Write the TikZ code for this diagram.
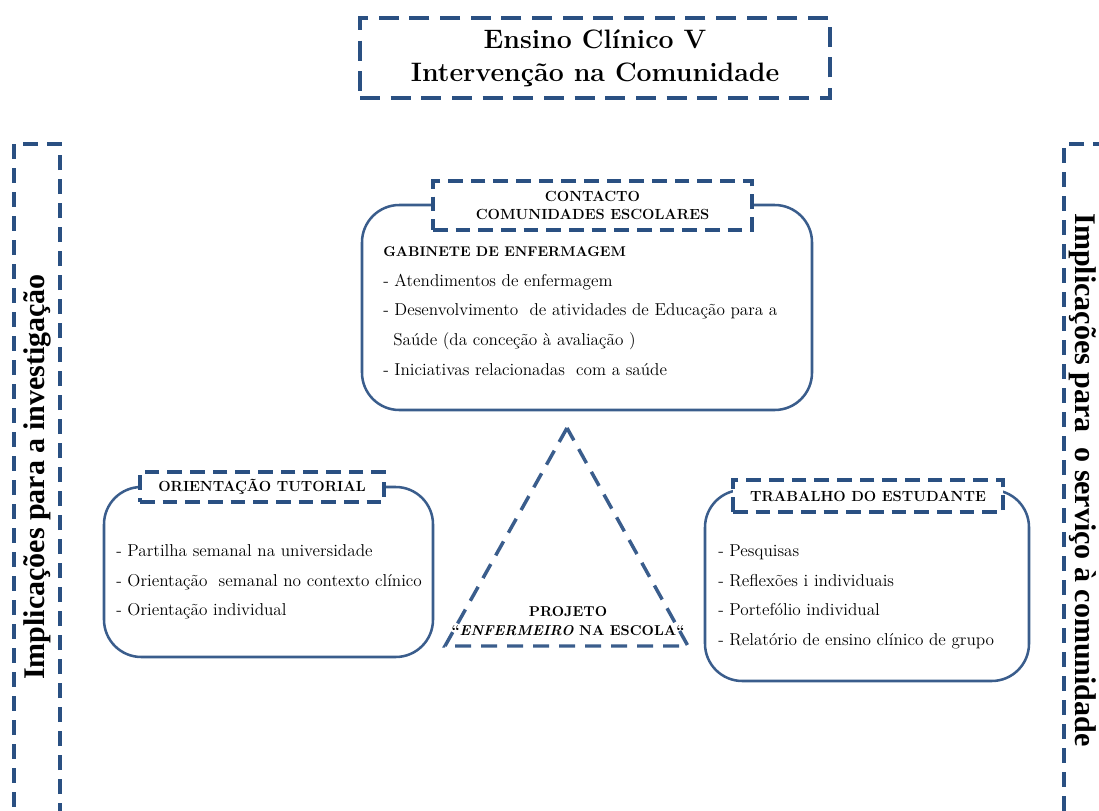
\documentclass[tikz,border=0pt]{standalone}
\usepackage{fontspec}
\newfontfamily\sidefont{Liberation Serif}
\begin{document}
\definecolor{dashblue}{HTML}{2A5082}
\definecolor{lineblue}{HTML}{3A5D8C}
\begin{tikzpicture}[x=0.75pt,y=-0.75pt,
  titlebox/.style={draw=dashblue,line width=3pt,dash pattern=on 15pt off 8pt,
    minimum width=470*0.75pt,minimum height=80*0.75pt,align=center,
    font=\fontsize{20}{25}\selectfont\bfseries},
  sidebox/.style={draw=dashblue,line width=2.8pt,dash pattern=on 11pt off 7pt},
  roundbox/.style={draw=lineblue,line width=1.9pt,rounded corners=28pt},
  headbox/.style={draw=dashblue,fill=white,line width=2.8pt,dash pattern=on 11pt off 6pt,
    align=center,font=\fontsize{11}{13.5}\selectfont\bfseries},
  item/.style={anchor=mid west,inner sep=0pt,font=\fontsize{12.9}{15}\selectfont},
  sidetext/.style={font=\sidefont\fontsize{22.5}{27}\selectfont\bfseries},
  tri/.style={draw=lineblue,line width=2.6pt,dash pattern=on 12pt off 7.5pt}]
\useasboundingbox (0,0) rectangle (1099,810);
\clip (0,0) rectangle (1099,810);

% title
\node[titlebox] (title) at (595,58) {Ensino Clínico V\\Intervenção na Comunidade};

% side panels
\node[sidebox,minimum width=46*0.75pt,minimum height=700*0.75pt] (leftpanel) at (37,494) {};
\node[sidetext,rotate=90] (lefttext) at (37,477) {Implicações para a investigação};
\node[sidebox,minimum width=56*0.75pt,minimum height=700*0.75pt] (rightpanel) at (1092,494) {};
\node[sidetext,rotate=-90] (righttext) at (1083,480) {Implicações para\ \ o serviço à comunidade};

% top block
\node[roundbox,minimum width=450*0.75pt,minimum height=205*0.75pt] (topbox) at (587,307.5) {};
\node[headbox,minimum width=319*0.75pt,minimum height=49*0.75pt] (tophead) at (592.5,205.5)
  {CONTACTO\\COMUNIDADES ESCOLARES};
\node[item,font=\fontsize{10.5}{14}\selectfont\bfseries] (t0) at (383,254) {GABINETE DE ENFERMAGEM};
\node[item] (t1) at (383,284) {- Atendimentos de enfermagem};
\node[item] (t2) at (383,313) {- Desenvolvimento\ \ de atividades de Educação para a};
\node[item] (t3) at (393,343) {Saúde (da conceção à avaliação )};
\node[item] (t4) at (383,373) {- Iniciativas relacionadas\ \ com a saúde};

% left block
\node[roundbox,minimum width=329*0.75pt,minimum height=170*0.75pt] (leftbox) at (268.5,572) {};
\node[headbox,minimum width=244*0.75pt,minimum height=30*0.75pt] (lefthead) at (262,487)
  {ORIENTAÇÃO TUTORIAL};
\node[item] (l1) at (116,554) {- Partilha semanal na universidade};
\node[item] (l2) at (116,584) {- Orientação\ \ semanal no contexto clínico};
\node[item] (l3) at (116,613) {- Orientação individual};

% right block
\node[roundbox,minimum width=324*0.75pt,minimum height=191*0.75pt] (rightbox) at (867,585.5) {};
\node[headbox,minimum width=270*0.75pt,minimum height=32*0.75pt] (righthead) at (868,496)
  {TRABALHO DO ESTUDANTE};
\node[item] (r1) at (718,554) {- Pesquisas};
\node[item] (r2) at (718,584) {- Reflexões i individuais};
\node[item] (r3) at (718,613) {- Portefólio individual};
\node[item] (r4) at (718,643) {- Relatório de ensino clínico de grupo};

% central triangle
\coordinate (apex) at (567,428);
\coordinate (baseleft) at (445,646);
\coordinate (baseright) at (688,646);
\draw[tri] (apex) -- (baseleft) -- (baseright) -- cycle;
\node[align=center,font=\fontsize{10.7}{14}\selectfont\bfseries] (project) at (568,621)
  {PROJETO\\“\textit{ENFERMEIRO} NA ESCOLA“};
\end{tikzpicture}
\end{document}
